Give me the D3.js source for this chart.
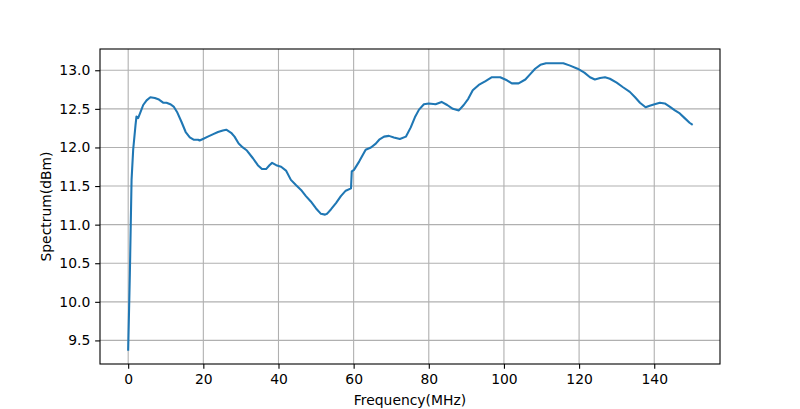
<!DOCTYPE html>
<html><head><meta charset="utf-8">
<script src="https://cdn.jsdelivr.net/npm/d3@7"></script>
<style>body{margin:0;background:#fff}svg{display:block}text{font-family:"DejaVu Sans",sans-serif}</style>
</head><body><svg id="c" width="800" height="409"></svg>
<script>
const freq = [0,0.45,0.9,1.33,1.95,2.2,2.65,3.3,4,4.9,5.9,7.1,8.2,9.3,10.2,11.2,12.1,13,14.2,15.3,16.4,17.4,18.6,19,19.9,21.2,22.5,23.9,25.2,26.1,27.4,28.3,29.4,30.5,31.6,33.2,34.5,35.6,36.7,37.6,38.3,39.4,40.7,42,43.3,44.7,46,47.3,48.6,50,51.3,52.4,52.9,54,55.3,56.6,57.9,59.3,59.5,60.1,61.5,63.2,64.6,65.9,66.8,68.1,69.4,70.7,72.3,73.9,75.2,76.3,77.4,78.7,80,81.8,83.4,84.9,86.4,88,89.3,90.5,91.7,93.3,95.1,96.8,99,100.8,102.1,103.9,105.7,107,108.3,109.7,111.2,112.9,114.5,115.8,117.6,119.6,121.4,122.9,124.2,125.6,126.9,128.2,130,131.7,133.5,134.9,136.2,137.7,138.8,140.1,141.5,142.8,144.1,145.5,146.8,148.1,149.4,150];
const spectrum = [9.38,10.37,11.58,11.97,12.29,12.40,12.38,12.46,12.55,12.61,12.65,12.64,12.62,12.58,12.58,12.56,12.53,12.46,12.33,12.20,12.13,12.10,12.10,12.09,12.11,12.14,12.17,12.20,12.22,12.23,12.19,12.14,12.05,12.0,11.96,11.86,11.77,11.72,11.72,11.77,11.80,11.77,11.75,11.70,11.58,11.51,11.45,11.37,11.30,11.21,11.14,11.13,11.14,11.20,11.28,11.37,11.44,11.47,11.69,11.71,11.82,11.97,12.0,12.05,12.10,12.14,12.15,12.13,12.11,12.14,12.26,12.39,12.49,12.56,12.57,12.56,12.59,12.55,12.50,12.48,12.55,12.63,12.74,12.81,12.86,12.91,12.91,12.87,12.83,12.83,12.88,12.95,13.02,13.07,13.09,13.09,13.09,13.09,13.06,13.02,12.97,12.91,12.88,12.90,12.91,12.89,12.84,12.78,12.72,12.65,12.58,12.52,12.54,12.56,12.58,12.57,12.53,12.48,12.44,12.38,12.32,12.30];
const xTicks = [0,20,40,60,80,100,120,140];
const yTicks = [9.5,10.0,10.5,11.0,11.5,12.0,12.5,13.0];
const xLabel = "Frequency(MHz)", yLabel = "Spectrum(dBm)";

const L=100,R=720,T=49,B=364;
const svg=d3.select("#c");
const xe=d3.extent(freq), ye=d3.extent(spectrum);
const xp=(xe[1]-xe[0])*0.05, yp=(ye[1]-ye[0])*0.05;
const x=d3.scaleLinear().domain([xe[0]-xp,xe[1]+xp]).range([L,R]);
const y=d3.scaleLinear().domain([ye[0]-yp,ye[1]+yp]).range([B,T]);
// grid
svg.append("g").selectAll("line").data(xTicks).join("line")
 .attr("x1",d=>x(d)).attr("x2",d=>x(d)).attr("y1",T).attr("y2",B)
 .attr("stroke","#b0b0b0").attr("stroke-width",1.1);
svg.append("g").selectAll("line").data(yTicks).join("line")
 .attr("y1",d=>y(d)).attr("y2",d=>y(d)).attr("x1",L).attr("x2",R)
 .attr("stroke","#b0b0b0").attr("stroke-width",1.1);
// line
svg.append("path").datum(freq.map((f,i)=>[f,spectrum[i]]))
 .attr("fill","none").attr("stroke","#1f77b4").attr("stroke-width",2.08)
 .attr("stroke-linejoin","round").attr("stroke-linecap","square")
 .attr("d",d3.line().x(d=>x(d[0])).y(d=>y(d[1])));
// axes
const xa=d3.axisBottom(x).tickValues(xTicks).tickFormat(d3.format("d")).tickSizeInner(4.86).tickSizeOuter(0).tickPadding(4.86);
const ya=d3.axisLeft(y).tickValues(yTicks).tickFormat(d3.format(".1f")).tickSizeInner(4.86).tickSizeOuter(0).tickPadding(4.86);
const gx=svg.append("g").attr("transform",`translate(0,${B})`).call(xa);
const gy=svg.append("g").attr("transform",`translate(${L},0)`).call(ya);
[gx,gy].forEach(g=>{g.select(".domain").remove();
 g.selectAll(".tick line").attr("stroke","#000").attr("stroke-width",1.1);
 g.selectAll(".tick text").attr("fill","#000").style("font-size","13.9px").style("font-family","DejaVu Sans");});
svg.append("rect").attr("x",L).attr("y",T).attr("width",R-L).attr("height",B-T)
 .attr("fill","none").attr("stroke","#000").attr("stroke-width",1.1);
svg.append("text").attr("x",(L+R)/2).attr("y",405).attr("text-anchor","middle")
 .style("font-size","13.9px").text(xLabel);
svg.append("text").attr("transform",`translate(51,${(T+B)/2}) rotate(-90)`).attr("text-anchor","middle")
 .style("font-size","13.9px").text(yLabel);
</script></body></html>
